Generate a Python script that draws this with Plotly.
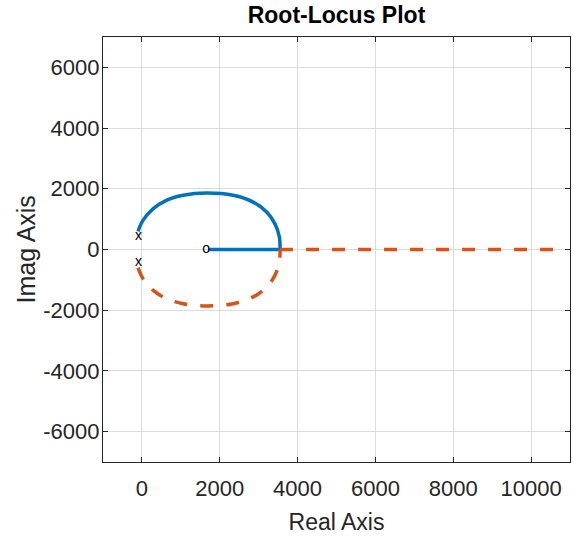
import plotly.graph_objects as go

# values
arc_re = [-100, 26, 284, 628, 1057, 1660, 2345, 2860, 3206, 3420, 3531, 3550]
arc_im = [600, 960, 1340, 1620, 1785, 1860, 1785, 1560, 1237, 845, 414, 0]
real_axis_blue = [3550, 1700]
real_axis_red = [3550, 10650]
pole_re = [-85, -85]
pole_im = [440, -440]
zero_re = [1650]
zero_im = [0]

y_ticks = [-6000, -4000, -2000, 0, 2000, 4000, 6000]
y_ticklabels = ["-6000", "-4000", "-2000", "0", "2000", "4000", "6000"]

blue = "#0072BD"
red = "#D95319"
font = "Liberation Sans Narrow, Liberation Sans, Arial"

fig = go.Figure()

# upper branch and segment to the zero (solid)
fig.add_trace(go.Scatter(x=arc_re, y=arc_im, mode="lines", line=dict(color=blue, width=3.5, shape="spline")))
fig.add_trace(go.Scatter(x=real_axis_blue, y=[0, 0], mode="lines", line=dict(color=blue, width=3.5)))

# lower branch and segment to infinity (dashed)
fig.add_trace(go.Scatter(x=arc_re, y=[-v for v in arc_im], mode="lines",
                         line=dict(color=red, width=3.5, shape="spline", dash="13px,13px")))
fig.add_trace(go.Scatter(x=real_axis_red, y=[0, 0], mode="lines",
                         line=dict(color=red, width=3.5, dash="13px,13px")))

# pole and zero labels
fig.add_trace(go.Scatter(x=pole_re, y=pole_im, mode="text", text=["x", "x"],
                         textfont=dict(family=font, size=14, color="black")))
fig.add_trace(go.Scatter(x=zero_re, y=zero_im, mode="text", text=["o"],
                         textfont=dict(family=font, size=14, color="black")))

axis_style = dict(showgrid=True, gridcolor="#dcdcdc", gridwidth=1, zeroline=False,
                  showline=True, linecolor="#262626", linewidth=1.3, mirror="allticks",
                  ticks="inside", ticklen=5, tickcolor="#262626", tickformat="d",
                  automargin=False,
                  tickfont=dict(family=font, size=22, color="#262626"))

fig.update_xaxes(range=[-1000, 11000], dtick=2000, tick0=0, ticklabelstandoff=6,
                 title=dict(text="Real Axis", font=dict(family=font, size=23, color="#262626"), standoff=14),
                 **axis_style)
fig.update_yaxes(range=[-7000, 7000], tickvals=y_ticks, ticktext=y_ticklabels, ticklabelstandoff=-2,
                 **axis_style)

# y title as an annotation so it can sit where the reference has it
fig.add_annotation(text="Imag Axis", textangle=-90, xref="paper", yref="paper",
                   x=(25 - 103) / 467, y=0.5, xanchor="center", yanchor="middle", showarrow=False,
                   font=dict(family=font, size=25, color="#262626"))

fig.update_layout(
    width=573, height=537,
    margin=dict(l=103, r=3, t=37, b=75),
    plot_bgcolor="white", paper_bgcolor="white",
    showlegend=False,
    title=dict(text="<b>Root-Locus Plot</b>", x=0.5, xref="paper", xanchor="center",
               y=1 - 15 / 537, yref="container", yanchor="middle",
               font=dict(family=font, size=23, color="black")),
)

# drop the default 8px body margin so the figure sits at the window corner
fig.write_html("out.html", config={"displayModeBar": False},
               post_script="document.body.style.margin = '0px';")
